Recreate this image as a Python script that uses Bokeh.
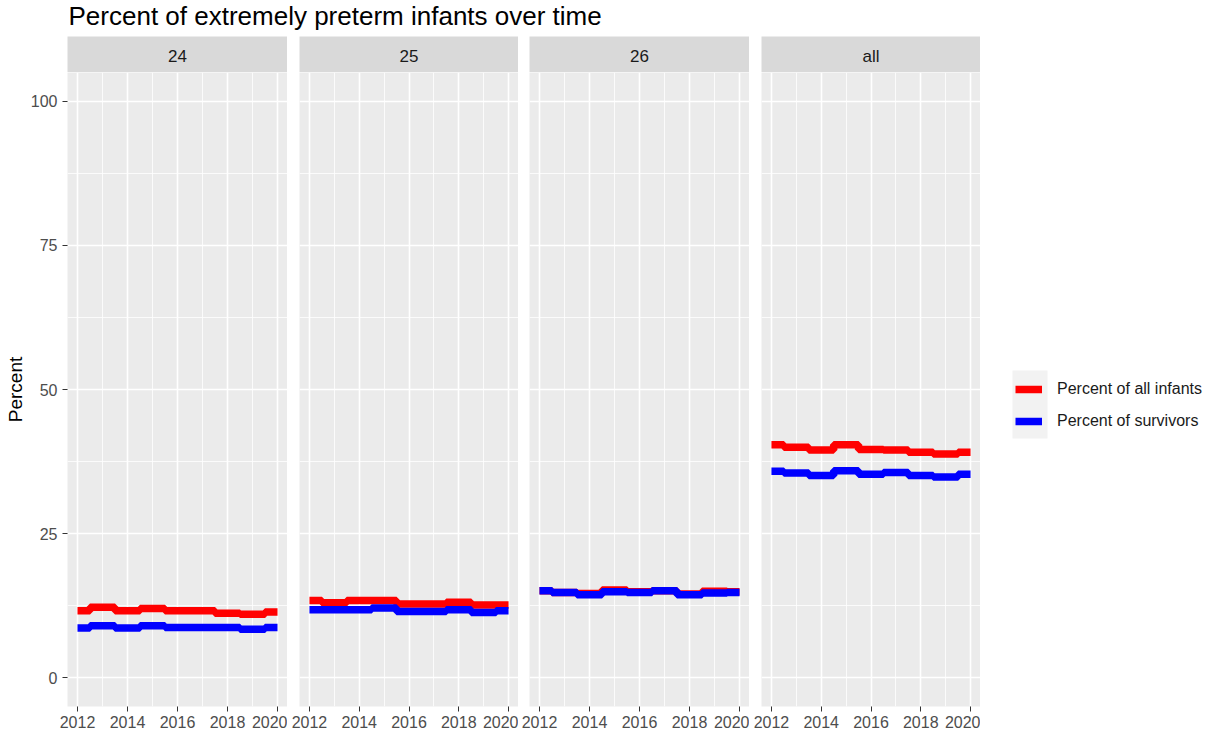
from bokeh.plotting import figure
from bokeh.models import Range1d, FixedTicker, Legend, LegendItem
from bokeh.layouts import row, column
from bokeh.embed import file_html
from bokeh.resources import INLINE
from bokeh.core.properties import value

# ---------------- data ----------------
title_text = "Percent of extremely preterm infants over time"
years = [2012, 2013, 2014, 2015, 2016, 2017, 2018, 2019, 2020]
facets = ["24", "25", "26", "all"]
series_labels = ["Percent of all infants", "Percent of survivors"]

all_24 = [11.6, 12.2, 11.6, 12.0, 11.6, 11.6, 11.2, 11.0, 11.4]
surv_24 = [8.6, 9.0, 8.6, 9.0, 8.7, 8.7, 8.7, 8.4, 8.7]
all_25 = [13.4, 13.0, 13.4, 13.4, 12.8, 12.8, 13.1, 12.6, 12.6]
surv_25 = [11.8, 11.8, 11.8, 12.1, 11.5, 11.5, 11.8, 11.3, 11.6]
all_26 = [15.1, 14.8, 14.6, 15.2, 14.9, 15.1, 14.5, 15.0, 14.9]
surv_26 = [15.1, 14.8, 14.4, 14.9, 14.8, 15.1, 14.4, 14.7, 14.8]
all_all = [40.4, 40.0, 39.5, 40.4, 39.6, 39.5, 39.1, 38.8, 39.1]
surv_all = [35.8, 35.5, 35.1, 35.9, 35.3, 35.6, 35.1, 34.8, 35.3]

x_ticks = [2012, 2014, 2016, 2018, 2020]
x_minor = [2013, 2015, 2017, 2019]
y_ticks = [0, 25, 50, 75, 100]
y_minor = [12.5, 37.5, 62.5, 87.5]

series_all = [all_24, all_25, all_26, all_all]
series_surv = [surv_24, surv_25, surv_26, surv_all]

# ---------------- style ----------------
FONT = "Liberation Sans"
PANEL_BG = "#EBEBEB"
STRIP_BG = "#D9D9D9"
KEY_BG = "#F2F2F2"
RED = "#FF0000"
BLUE = "#0000FF"
LINE_W = 7.5

left_borders = [67, 12, 11, 12]
frame_widths = [220, 219, 220, 219]
legend_w = 230
strip_h = 36
frame_h = 634
bottom_h = 30
header_h = 36
total_w = sum(left_borders) + sum(frame_widths) + legend_w

x_lo, x_hi = years[0] - 0.4, years[-1] + 0.4
y_lo, y_hi = -5, 105

# header with the title
header = figure(width=total_w, height=header_h, x_range=Range1d(0, total_w),
                y_range=Range1d(0, header_h), output_backend="svg",
                toolbar_location=None, x_axis_location=None, y_axis_location=None,
                min_border=0, outline_line_color=None)
header.grid.visible = False
header.text(x=[left_borders[0] + 1], y=[header_h], text=[title_text],
            text_font=value(FONT), text_font_size="26px", text_color="#000000",
            text_baseline="top", text_align="left")

cols = []
for i, fac in enumerate(facets):
    lb = left_borders[i]
    fw = frame_widths[i]
    xr = Range1d(x_lo, x_hi)

    strip = figure(width=lb + fw, height=strip_h, x_range=xr, y_range=Range1d(0, 1),
                   output_backend="svg", toolbar_location=None,
                   x_axis_location=None, y_axis_location=None,
                   min_border_left=lb, min_border_right=0, min_border_top=0,
                   min_border_bottom=0, background_fill_color=STRIP_BG,
                   border_fill_color="white", outline_line_color=None)
    strip.grid.visible = False
    strip.text(x=[(x_lo + x_hi) / 2], y=[0.45], text=[fac], text_align="center",
               text_baseline="middle", text_font=value(FONT), text_font_size="17px",
               text_color="#1A1A1A")

    p = figure(width=lb + fw, height=frame_h + bottom_h, x_range=xr,
               y_range=Range1d(y_lo, y_hi), output_backend="svg",
               toolbar_location=None, min_border_left=lb, min_border_right=0,
               min_border_top=0, min_border_bottom=bottom_h,
               background_fill_color=PANEL_BG, border_fill_color="white",
               outline_line_color=None)

    xt = FixedTicker(ticks=x_ticks, minor_ticks=x_minor)
    yt = FixedTicker(ticks=y_ticks, minor_ticks=y_minor)
    p.xaxis.ticker = xt
    p.yaxis.ticker = yt
    p.xgrid.ticker = xt
    p.ygrid.ticker = yt
    for g in (p.xgrid[0], p.ygrid[0]):
        g.grid_line_color = "white"
        g.grid_line_width = 1.6
        g.minor_grid_line_color = "white"
        g.minor_grid_line_width = 0.8

    for ax in (p.xaxis[0], p.yaxis[0]):
        ax.axis_line_color = None
        ax.major_tick_line_color = "#333333"
        ax.major_tick_line_width = 1
        ax.major_tick_out = 5
        ax.major_tick_in = 0
        ax.minor_tick_line_color = None
        ax.major_label_text_font = FONT
        ax.major_label_text_font_size = "16px"
        ax.major_label_text_color = "#4D4D4D"
    p.xaxis.major_label_standoff = 4
    p.yaxis.major_label_standoff = 5

    if i == 0:
        p.yaxis.axis_label = "Percent"
        p.yaxis.axis_label_text_font = FONT
        p.yaxis.axis_label_text_font_size = "19px"
        p.yaxis.axis_label_text_font_style = "normal"
        p.yaxis.axis_label_text_color = "#000000"
        p.yaxis.axis_label_standoff = 2
    else:
        p.yaxis.visible = False

    p.step(x=years, y=series_all[i], mode="center", line_color=RED, line_width=LINE_W)
    p.step(x=years, y=series_surv[i], mode="center", line_color=BLUE, line_width=LINE_W)

    cols.append(column(strip, p, spacing=0))

# ---------------- legend (separate panel to the right) ----------------
leg_h = strip_h + frame_h + bottom_h
lg = figure(width=legend_w, height=leg_h, x_range=Range1d(0, legend_w),
            y_range=Range1d(0, leg_h), output_backend="svg", toolbar_location=None,
            x_axis_location=None, y_axis_location=None, min_border=0,
            outline_line_color=None, background_fill_color="white",
            border_fill_color="white")
lg.grid.visible = False
key_x, key_y, glyph_w, row_h = 35, 299, 27, 32
# grey key background as in ggplot's legend keys
lg.quad(left=[key_x - 3], right=[key_x + glyph_w + 5], bottom=[key_y - 1],
        top=[key_y + 2 * row_h + 3], fill_color=KEY_BG, line_color=None)
# proxy renderers (a single NaN point, draws nothing) that only supply the legend glyphs
nan = float("nan")
proxy_all = lg.line(x=[nan], y=[nan], line_color=RED, line_width=LINE_W)
proxy_surv = lg.line(x=[nan], y=[nan], line_color=BLUE, line_width=LINE_W)
legend = Legend(items=[LegendItem(label=series_labels[0], renderers=[proxy_all]),
                       LegendItem(label=series_labels[1], renderers=[proxy_surv])],
                location=(key_x, key_y), orientation="vertical",
                glyph_width=glyph_w, glyph_height=row_h, label_standoff=15,
                spacing=0, padding=0, margin=0,
                border_line_color=None, background_fill_alpha=0,
                label_text_font=FONT, label_text_font_size="16px",
                label_text_color="#1A1A1A")
lg.add_layout(legend, "center")

layout = column(header, row(*cols, lg, spacing=0), spacing=0)

open("out.html", "w").write(file_html(layout, INLINE))
